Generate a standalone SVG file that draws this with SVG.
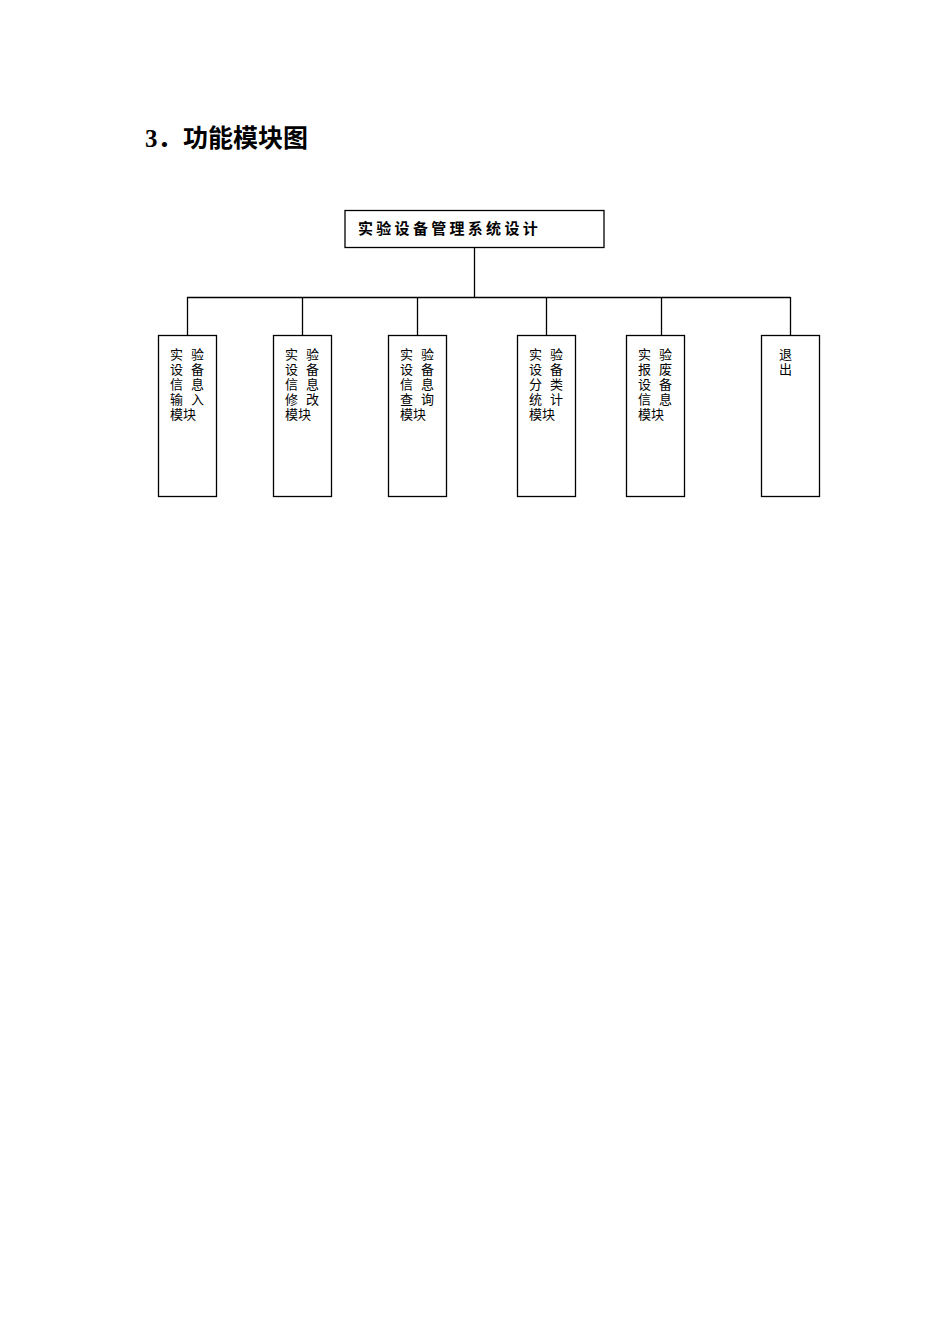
<svg xmlns="http://www.w3.org/2000/svg" width="950" height="1344" viewBox="0 0 950 1344">
<style>
.box{fill:#fff;stroke:#000;stroke-width:1.3}
.conn line{stroke:#000;stroke-width:1.3}
.t{font-family:"Liberation Serif","Noto Sans CJK SC",serif;font-size:13px;fill:#000}
.top{font-family:"Liberation Sans","Noto Sans CJK SC",sans-serif;font-size:15px;font-weight:bold;letter-spacing:3.3px;fill:#000}
.title{font-family:"Liberation Serif","Noto Sans CJK SC",serif;font-size:25px;font-weight:bold;fill:#000}
</style>
<rect width="950" height="1344" fill="#fff"/>
<g id="title"><text class="title" y="147"><tspan x="145">3．</tspan><tspan x="183">功能模块图</tspan></text></g>
<g id="root"><rect class="box" x="345" y="210.5" width="259" height="37"/><text class="top" x="358" y="234">实验设备管理系统设计</text></g>
<g class="conn" id="connectors">
<line x1="474.5" y1="247" x2="474.5" y2="297.5"/>
<line x1="187" y1="297.5" x2="790.5" y2="297.5"/>
<line x1="187.5" y1="297" x2="187.5" y2="335"/>
<line x1="302.5" y1="297" x2="302.5" y2="335"/>
<line x1="417.5" y1="297" x2="417.5" y2="335"/>
<line x1="546.5" y1="297" x2="546.5" y2="335"/>
<line x1="661.5" y1="297" x2="661.5" y2="335"/>
<line x1="790.5" y1="297" x2="790.5" y2="335"/>
</g>
<g id="n1"><rect class="box" x="158.5" y="335.5" width="58" height="161"/>
<text class="t"><tspan x="170" y="359">实</tspan><tspan x="191" y="359">验</tspan><tspan x="170" y="374">设</tspan><tspan x="191" y="374">备</tspan><tspan x="170" y="389">信</tspan><tspan x="191" y="389">息</tspan><tspan x="170" y="404">输</tspan><tspan x="191" y="404">入</tspan><tspan x="170" y="419">模块</tspan></text></g>
<g id="n2"><rect class="box" x="273.5" y="335.5" width="58" height="161"/>
<text class="t"><tspan x="285" y="359">实</tspan><tspan x="306" y="359">验</tspan><tspan x="285" y="374">设</tspan><tspan x="306" y="374">备</tspan><tspan x="285" y="389">信</tspan><tspan x="306" y="389">息</tspan><tspan x="285" y="404">修</tspan><tspan x="306" y="404">改</tspan><tspan x="285" y="419">模块</tspan></text></g>
<g id="n3"><rect class="box" x="388.5" y="335.5" width="58" height="161"/>
<text class="t"><tspan x="400" y="359">实</tspan><tspan x="421" y="359">验</tspan><tspan x="400" y="374">设</tspan><tspan x="421" y="374">备</tspan><tspan x="400" y="389">信</tspan><tspan x="421" y="389">息</tspan><tspan x="400" y="404">查</tspan><tspan x="421" y="404">询</tspan><tspan x="400" y="419">模块</tspan></text></g>
<g id="n4"><rect class="box" x="517.5" y="335.5" width="58" height="161"/>
<text class="t"><tspan x="529" y="359">实</tspan><tspan x="550" y="359">验</tspan><tspan x="529" y="374">设</tspan><tspan x="550" y="374">备</tspan><tspan x="529" y="389">分</tspan><tspan x="550" y="389">类</tspan><tspan x="529" y="404">统</tspan><tspan x="550" y="404">计</tspan><tspan x="529" y="419">模块</tspan></text></g>
<g id="n5"><rect class="box" x="626.5" y="335.5" width="58" height="161"/>
<text class="t"><tspan x="638" y="359">实</tspan><tspan x="659" y="359">验</tspan><tspan x="638" y="374">报</tspan><tspan x="659" y="374">废</tspan><tspan x="638" y="389">设</tspan><tspan x="659" y="389">备</tspan><tspan x="638" y="404">信</tspan><tspan x="659" y="404">息</tspan><tspan x="638" y="419">模块</tspan></text></g>
<g id="n6"><rect class="box" x="761.5" y="335.5" width="58" height="161"/>
<text class="t"><tspan x="779" y="359">退</tspan><tspan x="779" y="374">出</tspan></text></g>
</svg>
